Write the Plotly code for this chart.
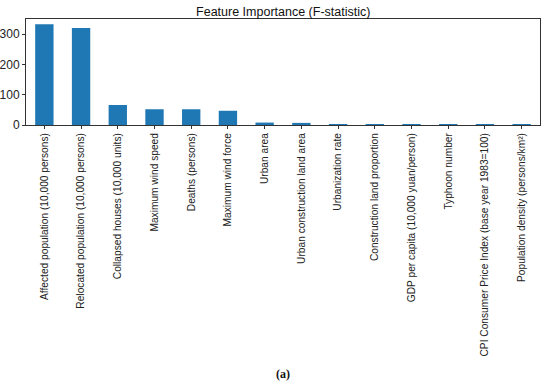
import plotly.graph_objects as go

features = [
    "Affected population (10,000 persons)",
    "Relocated population (10,000 persons)",
    "Collapsed houses (10,000 units)",
    "Maximum wind speed",
    "Deaths (persons)",
    "Maximum wind force",
    "Urban area",
    "Urban construction land area",
    "Urbanization rate",
    "Construction land proportion",
    "GDP per capita (10,000 yuan/person)",
    "Typhoon number",
    "CPI Consumer Price Index (base year 1983=100)",
    "Population density (persons/km²)",
]
f_values = [333, 320, 66, 52, 52, 47, 8, 7, 3, 0.05, 0.05, 0.05, 0.05, 0.05]

fig = go.Figure(go.Bar(
    x=list(range(len(features))), y=f_values, width=0.5,
    marker=dict(color="#1f77b4", line=dict(width=0)),
))

plot_top, plot_bottom = 19, 125
fig.update_layout(
    width=550, height=386,
    margin=dict(l=26, r=10, t=plot_top, b=386 - plot_bottom, autoexpand=False),
    paper_bgcolor="white", plot_bgcolor="white",
    font=dict(family="Liberation Sans, Arial, sans-serif", color="#222", size=11),
    title=dict(text="Feature Importance (F-statistic)", x=0.515, xanchor="center",
               y=1 - 11.5 / 386, yanchor="middle", font=dict(size=12.5, color="#111")),
    showlegend=False,
    annotations=[dict(text="<b>(a)</b>", x=0.5, xref="paper", yref="paper",
                      y=-(374 - plot_bottom) / (plot_bottom - plot_top),
                      xanchor="center", yanchor="middle", showarrow=False,
                      font=dict(family="Liberation Serif, Times New Roman, serif", size=12, color="#111"))],
)

fig.update_xaxes(
    range=[-0.5, len(features) - 0.5], automargin=False,
    tickmode="array", tickvals=list(range(len(features))), ticktext=features,
    tickangle=-90, ticks="outside", ticklen=3, tickcolor="#333",
    showline=True, linecolor="#333", linewidth=1, mirror=True,
    showgrid=False, zeroline=False, tickfont=dict(size=10.2),
)
fig.update_yaxes(
    range=[0, 350], tickvals=[0, 100, 200, 300], automargin=False,
    ticks="outside", ticklen=3, tickcolor="#333",
    showline=True, linecolor="#333", linewidth=1, mirror=True,
    showgrid=False, zeroline=False, tickfont=dict(size=12),
)

fig.write_html("out.html", config={"displayModeBar": False},
               post_script="document.body.style.margin='0';")
